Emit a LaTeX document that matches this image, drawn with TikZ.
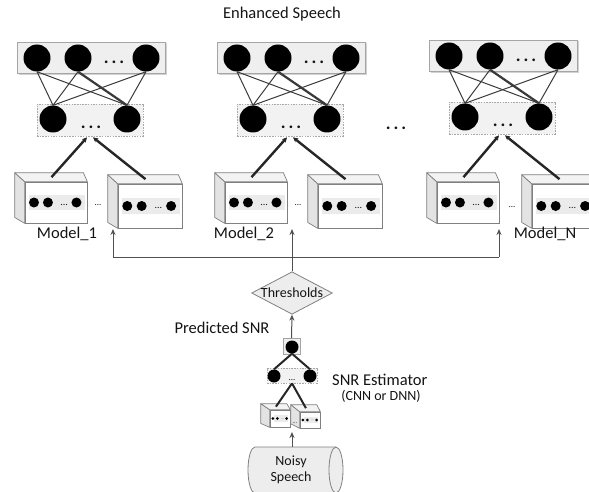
\documentclass[tikz,border=0pt]{standalone}
\usepackage{fontspec}
\setmainfont{Carlito}
\usetikzlibrary{shapes.geometric,arrows.meta}
\definecolor{txt}{HTML}{141414}
\definecolor{boxfill}{HTML}{EFEFEF}
\definecolor{boxline}{HTML}{A5A5A5}
\definecolor{midfill}{HTML}{F2F2F2}
\definecolor{midline}{HTML}{A8A8A8}
\definecolor{connc}{HTML}{3A3A3A}
\definecolor{feedc}{HTML}{262626}
\definecolor{glc}{HTML}{505050}
\definecolor{mline}{HTML}{808080}
\definecolor{sidef}{HTML}{E3E3E3}
\definecolor{topf}{HTML}{F3F3F3}
\definecolor{stripf}{HTML}{EBEBEB}
\definecolor{shapef}{HTML}{EDEDED}
\definecolor{shadowc}{HTML}{D2D2D2}

\tikzset{
  lbl/.style={font=\fontsize{16.5}{19}\selectfont, text=txt, inner sep=0pt},
  neuron/.style={circle, fill=black, inner sep=0pt, minimum size=27pt},
  topbox/.style={draw=boxline, fill=boxfill, line width=0.8pt, inner sep=0pt},
  midbox/.style={draw=midline, fill=midfill, dash pattern=on 1.5pt off 1.2pt, line width=0.7pt, inner sep=0pt},
  conn/.style={draw=connc, line width=1pt},
  thickconn/.style={draw=connc, line width=2.2pt},
  feed/.style={draw=feedc, line width=2.4pt, -{Stealth[length=5pt,width=5pt]}},
  efeed/.style={draw=feedc, line width=2pt},
  gline/.style={draw=glc, line width=1pt},
  garr/.style={draw=glc, line width=1pt, -{Stealth[length=6pt,width=5pt]}},
  front/.style={draw=mline, fill=white, line width=0.7pt, inner sep=0pt},
  sideface/.style={draw=mline, fill=sidef, line width=0.7pt, line join=round},
  topface/.style={draw=mline, fill=topf, line width=0.7pt, line join=round},
  stripbox/.style={fill=stripf, inner sep=0pt},
  mdot/.style={circle, fill=black, inner sep=0pt},
  bigdots/.style={font=\bfseries\fontsize{18}{18}\selectfont, text=txt, inner sep=0pt},
  smalldots/.style={font=\fontsize{9}{9}\selectfont, text=txt, inner sep=0pt},
}

% name, cx, cy, w, h, depth x, depth y, dot diameter
\newcommand{\modelbx}[8]{%
  \node[front, minimum width=#4pt, minimum height=#5pt] (#1) at (#2,#3) {};
  \filldraw[sideface] (#1.north west) -- ++(-#6,-#7) -- ([shift={(-#6,-#7*0.66)}]#1.south west) -- (#1.south west) -- cycle;
  \filldraw[topface] (#1.north west) -- ++(-#6,-#7) -- ([shift={(-#6*0.4,-#7)}]#1.north east) -- (#1.north east) -- cycle;
  \coordinate (#1t) at ([shift={(-#6*0.45,-#7*0.5)}]#1.north);
  \node[stripbox, minimum width={(#4-6)*1pt}, minimum height={#5*0.36*1pt}] (#1s) at ([xshift=1pt]#1.center) {};
  \node[mdot, minimum size=#8pt] (#1d1) at ([xshift={-#4*0.355*1pt}]#1.center) {};
  \node[mdot, minimum size=#8pt] (#1d2) at ([xshift={-#4*0.13*1pt}]#1.center) {};
  \node[mdot, minimum size=#8pt] (#1d3) at ([xshift={#4*0.33*1pt}]#1.center) {};
  \node[font=\fontsize{#8}{#8}\selectfont, text=txt, inner sep=0pt] (#1d) at ([shift={(#4*0.13,#8*0.2)}]#1.center) {...};
}

\begin{document}
\begin{tikzpicture}[x=1pt,y=-1pt]
\useasboundingbox (0,0) rectangle (589,492);

\node[lbl] (enh) at (282,14) {Enhanced Speech};

\foreach \blk/\dx/\dy/\ax/\bx/\lx/\ln/\ar/\dd/\ddy in
  {1/0/0/56/150/67/1/113/98/205, 2/200/0/256/350/244/2/292/298/205, 3/412/-2/468/564/545/N/499/512/207}{
  \begin{scope}[shift={(\dx,\dy)}]
    \fill[shadowc] (18.5,43.5) rectangle (167,75);
    \node[topbox, minimum width=148pt, minimum height=31pt] (top\blk) at (91,57.5) {};
    \node[neuron] (a\blk1) at (37,58) {};
    \node[neuron] (a\blk2) at (78,58) {};
    \node[neuron] (a\blk3) at (146,58) {};
    \node[bigdots] (ad\blk) at (114,62) {.\,.\,.};
    \node[midbox, minimum width=106pt, minimum height=32pt] (mid\blk) at (90,120) {};
    \node[neuron] (b\blk1) at (53,119) {};
    \node[neuron] (b\blk2) at (127,119) {};
    \node[bigdots] (bd\blk) at (91,127) {.\,.\,.};
    \foreach \i in {1,2,3}{\foreach \j in {1,2}{\draw[conn] (a\blk\i.south) -- (b\blk\j.north);}}
    \draw[thickconn] (a\blk2.south) -- (b\blk2.north);
  \end{scope}
  \modelbx{ma\blk}{\ax}{202.5}{62}{41}{10}{9}{10}
  \modelbx{mb\blk}{\bx}{206}{64}{44}{10}{9}{10}
  \draw[feed] (ma\blk t) -- ([xshift=-3pt,yshift=-1pt]mid\blk.south);
  \draw[feed] (mb\blk t) -- ([xshift=3pt,yshift=-1pt]mid\blk.south);
  \node[smalldots] (dd\blk) at (\dd,\ddy) {...};
  \node[lbl] (lab\blk) at (\lx,234) {Model\_\ln};
  \coordinate (hl\blk) at (\ar,257);
  \coordinate (in\blk) at (\ar,229);
  \draw[garr] (hl\blk) -- (in\blk);
}

\node[bigdots] (gap) at (396,128) {.\,.\,.};

\draw[gline] (hl1) -- (hl3);

\node[diamond, draw=mline, fill=shapef, line width=0.8pt, aspect=1.9, inner sep=0pt,
      font=\fontsize{14}{16}\selectfont, text=txt] (thr) at (292,293) {Thresholds};
\draw[gline] (thr.north) -- (hl2);

\node[lbl] (psnr) at (222,328) {Predicted SNR};

% SNR estimator
\node[topbox, minimum width=17pt, minimum height=16pt] (esq) at (291.5,346.5) {};
\node[neuron, minimum size=13pt] (e0) at (292,347) {};
\draw[garr] (esq.north) -- (thr.south);
\node[midbox, minimum width=50pt, minimum height=15pt] (emid) at (292,375.5) {};
\node[neuron, minimum size=13pt] (e1) at (274,376) {};
\node[neuron, minimum size=13pt] (e2) at (310,376) {};
\node[smalldots] (ed) at (292,380) {...};
\draw[efeed] (e0.south) -- (e1.north);
\draw[efeed] (e0.south) -- (e2.north);
\modelbx{sa}{280}{418.5}{20}{17}{9}{6}{3}
\modelbx{sb}{310}{420}{20}{16}{9}{7}{3}
\draw[efeed] (sat) -- (emid.south);
\draw[efeed] (sbt) -- (emid.south);
\node[font=\fontsize{6}{6}\selectfont, text=txt, inner sep=0pt] (sd) at (295,423) {...};

\node[lbl, anchor=west] (est) at (332,380) {SNR Estimator};
\node[font=\fontsize{14}{16}\selectfont, text=txt, inner sep=0pt] (cnn) at (381,396) {(CNN or DNN)};

% Noisy speech cylinder
\fill[shapef] (255,447) -- (336,447) arc[start angle=90, end angle=-90, x radius=7pt, y radius=23pt]
  -- (255,493) arc[start angle=270, end angle=90, x radius=7pt, y radius=23pt] -- cycle;
\draw[mline, line width=0.8pt] (336,447) -- (255,447) arc[start angle=90, end angle=270, x radius=7pt, y radius=23pt] -- (336,493);
\draw[mline, line width=0.8pt] (336,470) ellipse[x radius=7pt, y radius=23pt];
\node[font=\fontsize{14}{15.5}\selectfont, text=txt, align=center, inner sep=0pt] (noisy) at (291,470) {Noisy\\Speech};
\coordinate (cyltop) at (292,447);
\coordinate (sin) at (292,432);
\draw[garr] (cyltop) -- (sin);
\end{tikzpicture}
\end{document}
